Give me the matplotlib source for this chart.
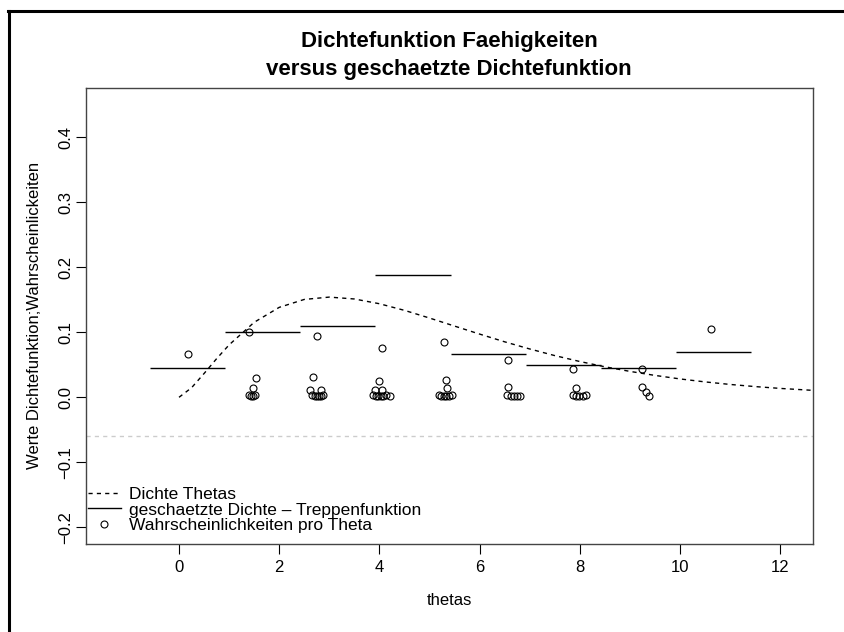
import matplotlib
matplotlib.use("Agg")
import matplotlib.pyplot as plt
from matplotlib.lines import Line2D

plt.rcParams["font.family"] = ["Liberation Sans", "DejaVu Sans"]

# density curve of the thetas
dens_x = [0.0, 0.25, 0.5, 0.75, 1.0, 1.5, 2.0, 2.5, 3.0, 3.5, 4.0, 4.5, 5.0,
          5.5, 6.0, 6.5, 7.0, 7.5, 8.0, 8.5, 9.0, 9.5, 10.0, 10.5, 11.0,
          11.5, 12.0, 12.65]
dens_y = [0.0, 0.0147, 0.0366, 0.0594, 0.0807, 0.1154, 0.1384, 0.1506,
          0.1542, 0.1513, 0.1440, 0.1338, 0.1220, 0.1096, 0.0973, 0.0854,
          0.0744, 0.0642, 0.0551, 0.0470, 0.0399, 0.0337, 0.0283, 0.0237,
          0.0198, 0.0165, 0.0137, 0.0107]

# estimated density as step function
bin_edges = [-0.58, 0.92, 2.42, 3.92, 5.42, 6.92, 8.42, 9.92, 11.42]
step_heights = [0.045, 0.1005, 0.1097, 0.188, 0.0666, 0.0497, 0.0451, 0.0697]

# probabilities per theta
theta_pts = [0.17,
             1.40, 1.54, 1.47, 1.40, 1.44, 1.48, 1.51,
             2.75, 2.68, 2.62, 2.83, 2.66, 2.71, 2.75, 2.79, 2.84, 2.88,
             4.05, 3.99, 3.91, 4.05, 3.88, 3.93, 3.98, 4.03, 4.08, 4.13, 4.21,
             5.28, 5.33, 5.35, 5.18, 5.23, 5.28, 5.33, 5.38, 5.44,
             6.56, 6.57, 6.55, 6.62, 6.68, 6.74, 6.80,
             7.86, 7.92, 7.86, 7.93, 7.99, 8.06, 8.12,
             9.24, 9.24, 9.32, 9.38,
             10.62]
prob_pts = [0.067,
            0.101, 0.029, 0.015, 0.003, 0.002, 0.002, 0.003,
            0.094, 0.031, 0.011, 0.011, 0.003, 0.002, 0.002, 0.002, 0.002, 0.003,
            0.076, 0.025, 0.011, 0.011, 0.003, 0.002, 0.002, 0.002, 0.002, 0.003, 0.002,
            0.085, 0.027, 0.014, 0.003, 0.002, 0.002, 0.002, 0.002, 0.003,
            0.057, 0.016, 0.003, 0.002, 0.002, 0.002, 0.002,
            0.043, 0.015, 0.003, 0.002, 0.002, 0.002, 0.003,
            0.043, 0.016, 0.008, 0.002,
            0.105]

ref_level = -0.06

fig = plt.figure(figsize=(8.44, 6.32), dpi=100)
ax = fig.add_axes([0.1019, 0.14, 0.861, 0.7208])

ax.plot(dens_x, dens_y, color="black", lw=1, linestyle=(0, (3, 3)))
for i, h in enumerate(step_heights):
    ax.hlines(h, bin_edges[i], bin_edges[i + 1], color="black", lw=1)
ax.plot(theta_pts, prob_pts, linestyle="none", marker="o", markersize=5,
        markerfacecolor="none", markeredgecolor="black", markeredgewidth=0.8)
ax.axhline(ref_level, color="#cccccc", lw=1, linestyle=(0, (3, 3)))

ax.set_xlim(-1.857, 12.65)
ax.set_ylim(-0.225, 0.476)
ax.set_xticks(range(0, 13, 2))
ax.set_yticks([-0.2, -0.1, 0.0, 0.1, 0.2, 0.3, 0.4])
ax.set_yticklabels(["\u22120.2", "\u22120.1", "0.0", "0.1", "0.2", "0.3", "0.4"],
                   rotation=90, va="center")
ax.tick_params(direction="out", length=7, width=0.8, labelsize=12)
ax.tick_params(axis="x", pad=5)
ax.tick_params(axis="y", pad=2)
for sp in ax.spines.values():
    sp.set_color("#444444")
    sp.set_linewidth(1)

ax.set_xlabel("thetas", fontsize=12, labelpad=13)
ax.set_ylabel("Werte Dichtefunktion;Wahrscheinlickeiten", fontsize=12, labelpad=12)

fig.text(0.532, 1 - 42 / 632, "Dichtefunktion Faehigkeiten",
         ha="center", va="center", fontsize=16, fontweight="bold")
fig.text(0.532, 1 - 70 / 632, "versus geschaetzte Dichtefunktion",
         ha="center", va="center", fontsize=16, fontweight="bold")

handles = [
    Line2D([], [], color="black", lw=1, linestyle=(0, (3, 3))),
    Line2D([], [], color="black", lw=1),
    Line2D([], [], linestyle="none", marker="o", markersize=5,
           markerfacecolor="none", markeredgecolor="black", markeredgewidth=0.8),
]
labels = ["Dichte Thetas", "geschaetzte Dichte \u2013 Treppenfunktion",
          "Wahrscheinlichkeiten pro Theta"]
ax.legend(handles, labels, loc="lower left", bbox_to_anchor=(0.0, 0.02),
          frameon=False, fontsize=12.5, handlelength=1.9, handletextpad=0.5,
          labelspacing=0.0, borderaxespad=0.0, borderpad=0.1)

# figure frame lines (top and left)
fig.add_artist(Line2D([8 / 844, 1], [1 - 11 / 632, 1 - 11 / 632],
                      transform=fig.transFigure, color="black", lw=2.2))
fig.add_artist(Line2D([9 / 844, 9 / 844], [0, 1 - 11 / 632],
                      transform=fig.transFigure, color="black", lw=2.2))

fig.savefig("out.png", dpi=100)
